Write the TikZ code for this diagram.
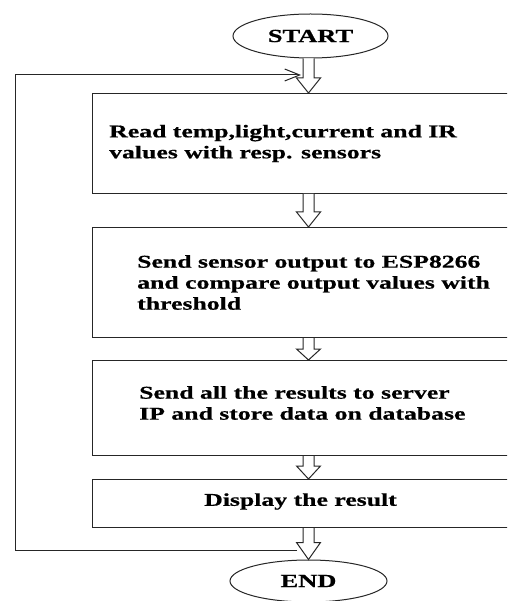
\documentclass[tikz,border=0pt]{standalone}
\usepackage{fontspec}
\newfontfamily\flowfont[FakeStretch=1.43,FakeBold=0.6]{Liberation Serif Bold}
\usetikzlibrary{shapes.geometric,arrows.meta,calc}
\tikzset{
  ln/.style={draw=black!85, line width=1pt},
  box/.style={ln, minimum width=432pt, anchor=north west, inner sep=0pt},
  term/.style={ln, ellipse, minimum width=155pt, minimum height=44pt, inner sep=0pt,
    font=\flowfont\fontsize{18.5}{21}\selectfont},
  txt/.style={font=\flowfont\fontsize{18}{21}\selectfont, align=left, inner sep=0pt},
  barrow/.style={ln, fill=white, line join=miter},
  loopline/.style={ln, -{Straight Barb[length=15pt,width=12pt,line width=1pt]}}
}
\newcommand\blockarr[3]{%
  \draw[barrow] let \p1=(#1), \p2=(#2) in
    (\x2-5.5pt,\y1) -- (\x2-5.5pt,\y2+#3) -- (\x2-12pt,\y2+#3) -- (\x2,\y2)
    -- (\x2+12pt,\y2+#3) -- (\x2+5.5pt,\y2+#3) -- (\x2+5.5pt,\y1);
}
\begin{document}
\begin{tikzpicture}[x=1pt,y=-1pt]
  \fill[white] (0,0) rectangle (507,601);
  \clip (0,0) rectangle (507,601);

  \node[term] (start) at (310.5,36) {START};
  \node[box, minimum height=100pt,
        label={[txt,anchor=west,xshift=17pt]west:{Read temp,light,current and IR\\values with resp. sensors}}]
        (b1) at (92,93) {};
  \node[box, minimum height=110pt,
        label={[txt,anchor=west,xshift=45pt]west:{Send sensor output to ESP8266\\and compare output values with\\threshold}}]
        (b2) at (92,227) {};
  \node[box, minimum height=95pt,
        label={[txt,anchor=west,xshift=47pt,yshift=5pt]west:{Send all the results to server\\IP and store data on database}}]
        (b3) at (92,360) {};
  \node[box, minimum height=48pt,
        label={[txt,anchor=center,xshift=-8pt,yshift=2pt]center:{Display the result}}]
        (b4) at (92,479) {};
  \node[term, minimum width=157pt, minimum height=42pt] (end) at (308.5,581) {END};

  \blockarr{start.south}{b1.north}{15pt}
  \blockarr{b1.south}{b2.north}{15pt}
  \blockarr{b2.south}{b3.north}{11pt}
  \blockarr{b3.south}{b4.north}{13pt}
  \blockarr{b4.south}{end.north}{17pt}

  \coordinate (lb) at (297,550);
  \coordinate (corner) at (15,75);
  \coordinate (lt) at (301,75);
  \draw[loopline] (lb) -| (corner) -- (lt);
\end{tikzpicture}
\end{document}
